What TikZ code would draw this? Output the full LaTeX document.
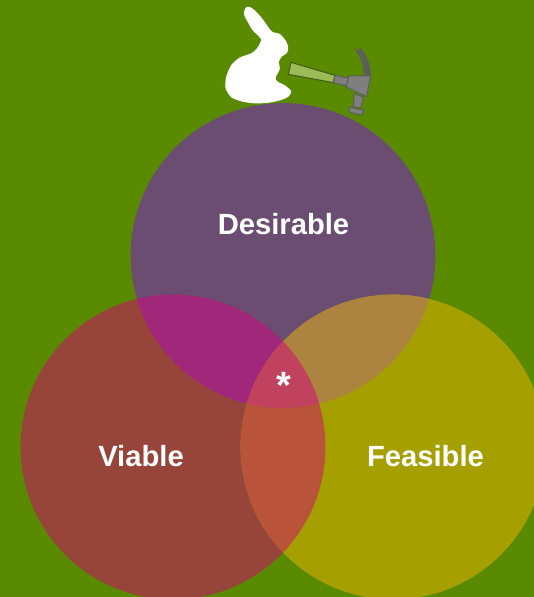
\documentclass[tikz,border=0pt]{standalone}
\usepackage{fontspec}
\setmainfont{Liberation Sans}
\definecolor{bg}{HTML}{5A8A00}
\definecolor{cD}{HTML}{6B4D72}
\definecolor{cV}{HTML}{97443A}
\definecolor{cF}{HTML}{A59F00}
\definecolor{cDV}{HTML}{A0277A}
\definecolor{cDF}{HTML}{AC843F}
\definecolor{cVF}{HTML}{B9533A}
\definecolor{cDVF}{HTML}{C0425F}
\definecolor{hgreen}{HTML}{9ABB55}
\definecolor{hgrey}{HTML}{7F7F7F}
\definecolor{hdark}{HTML}{5A5F58}
\definecolor{hedge}{HTML}{3F5A1A}
\tikzset{
  lbl/.style={text=white,font=\fontsize{29.2}{32}\selectfont\bfseries,inner sep=0pt,anchor=base},
  hpart/.style={draw=#1,line width=1pt,line join=round},
}
\def\cD{(283,255.5) circle (152.4)}
\def\cV{(173,447) circle (152.4)}
\def\cF{(393,447) circle (152.4)}
\begin{document}
\begin{tikzpicture}[x=1pt,y=-1pt]
\useasboundingbox (0,0) rectangle (534,597);
\fill[bg] (0,0) rectangle (534,597);
\clip (0,0) rectangle (534,597);
\fill[cD] \cD;
\fill[cV] \cV;
\fill[cF] \cF;
\begin{scope}\clip \cD; \fill[cDV] \cV; \fill[cDF] \cF; \end{scope}
\begin{scope}\clip \cV; \fill[cVF] \cF; \end{scope}
\begin{scope}\clip \cD; \clip \cV; \fill[cDVF] \cF; \end{scope}
% rabbit and hammer, traced at 3x from (220,2)
\begin{scope}[shift={(220,2)},x=0.3333pt,y=-0.3333pt]
\filldraw[white,line width=1pt,line join=round] plot[smooth cycle,tension=0.4] coordinates {(80,16) (92,18) (105,28) (125,50) (150,85) (158,92) (178,97) (195,115) (203,135) (200,152) (185,162) (175,180) (178,200) (165,228) (172,240) (195,252) (212,268) (205,282) (185,292) (150,300) (110,303) (70,298) (35,285) (18,258) (20,225) (35,190) (60,168) (95,155) (112,140) (125,112) (100,85) (85,60) (73,35)};
\filldraw[hpart=hedge,fill=hgreen] (213,181) -- (345,220) -- (340,242) -- (205,217) -- cycle;
\filldraw[hpart=hdark,fill=hgrey] (345,220) -- (387,228) -- (380,252) -- (340,242) -- cycle;
\filldraw[hpart=hdark,fill=hgrey] (403,275) -- (431,285) -- (422,318) -- (400,314) -- cycle;
\filldraw[hpart=hdark,fill=hgrey] (388,315) -- (431,325) -- (426,340) -- (388,330) -- cycle;
\filldraw[hpart=hdark,fill=hgrey] (387,222) -- (452,221) -- (440,284) -- (378,255) -- cycle;
\filldraw[hpart=hdark,fill=hdark] (452,221) .. controls (450,190) and (440,160) .. (420,137) -- (417,152) -- (405,140) .. controls (425,165) and (433,195) .. (433,221) -- cycle;
\end{scope}
% labels
\node[lbl] (desirable) at (283.5,234) {Desirable};
\node[lbl] (viable) at (141,466) {Viable};
\node[lbl] (feasible) at (425.5,466) {Feasible};
\node[lbl,font=\fontsize{38}{40}\selectfont\bfseries] (star) at (283.5,398) {*};
\end{tikzpicture}
\end{document}
